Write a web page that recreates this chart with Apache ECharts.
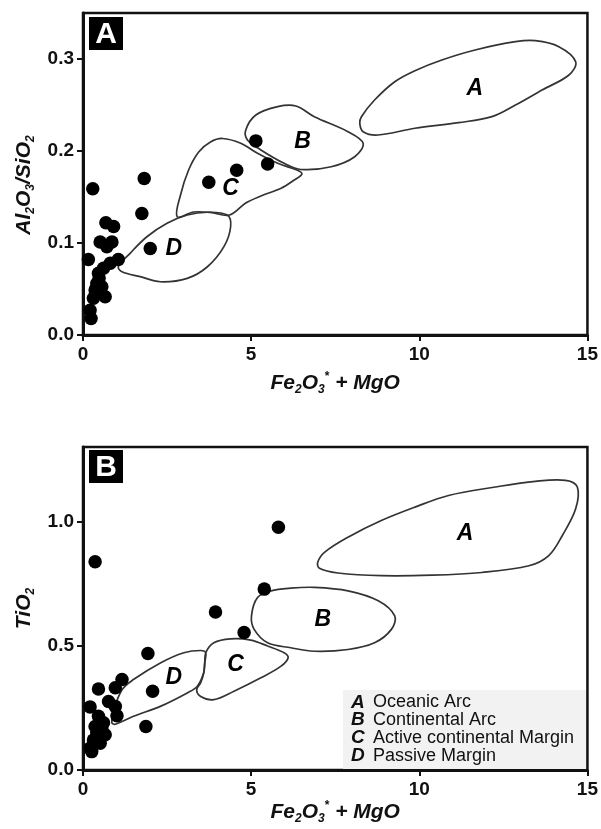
<!DOCTYPE html>
<html><head><meta charset="utf-8">
<script src="https://cdn.jsdelivr.net/npm/echarts@6/dist/echarts.min.js"></script>
<style>html,body{margin:0;padding:0;background:#fff}#c{width:601px;height:829px}</style>
</head><body><div id="c"></div>
<script>
// ---- data ----
const xTicks = [0, 5, 10, 15];
const yTicksA = [0, 0.1, 0.2, 0.3];
const yTicksB = [0, 0.5, 1.0];
const regionNames = ['A', 'B', 'C', 'D'];
const legendNames = ['Oceanic Arc', 'Continental Arc', 'Active continental Margin', 'Passive Margin'];

// Panel A: Al2O3/SiO2 vs Fe2O3*+MgO
const pointsA = [
  [0.29,0.159],[1.82,0.170],[1.75,0.132],[2.00,0.094],[3.74,0.166],[4.57,0.179],[5.14,0.211],[5.49,0.186],
  [0.68,0.122],[0.91,0.118],[0.51,0.101],[0.86,0.101],[0.71,0.096],[0.16,0.082],[1.05,0.082],[0.81,0.078],
  [0.61,0.0725],[0.46,0.067],[0.41,0.056],[0.56,0.0525],[0.36,0.049],[0.66,0.0416],[0.31,0.040],
  [0.21,0.027],[0.24,0.018],[0.48,0.062]
];
const polyA_A = [[8.28,0.2373],[8.67,0.2554],[9.27,0.2753],[9.87,0.2873],[10.67,0.2989],[11.66,0.3098],[12.86,0.3188],[13.45,0.3199],[14.15,0.3134],[14.65,0.2971],[14.45,0.2826],[13.65,0.2663],[12.86,0.25],[12.16,0.2373],[11.17,0.2308],[9.87,0.2247],[8.77,0.2174],[8.33,0.221],[8.23,0.2301]];
const polyA_B = [[4.84,0.2228],[5.14,0.2391],[5.79,0.2482],[6.33,0.2489],[6.88,0.2373],[7.88,0.221],[8.33,0.2084],[8.08,0.1938],[7.38,0.1829],[6.48,0.1799],[5.98,0.1866],[5.29,0.2011],[4.89,0.212]];
const polyA_C = [[2.80,0.1286],[2.90,0.1522],[3.14,0.1793],[3.44,0.1989],[3.79,0.2098],[4.15,0.2136],[4.69,0.2084],[5.19,0.1975],[5.79,0.1866],[6.36,0.1793],[6.51,0.175],[6.28,0.1685],[5.89,0.1595],[5.29,0.1511],[4.84,0.1435],[4.36,0.1304],[3.79,0.1332],[3.29,0.1337]];
const polyA_D = [[1.05,0.0742],[1.40,0.0888],[1.90,0.1068],[2.50,0.1214],[3.10,0.1304],[3.70,0.1334],[4.29,0.1304],[4.39,0.1177],[4.19,0.096],[3.70,0.0742],[3.10,0.0616],[2.30,0.0579],[1.70,0.0634],[1.16,0.0688]];
const labelPosA = [[11.65,0.268],[6.53,0.21],[4.39,0.159],[2.70,0.094]];

// Panel B: TiO2 vs Fe2O3*+MgO
const pointsB = [
  [0.36,0.838],[5.81,0.977],[5.39,0.728],[3.94,0.636],[4.79,0.553],[1.93,0.469],[2.07,0.317],[1.87,0.175],
  [1.16,0.364],[0.96,0.331],[0.46,0.326],[0.21,0.254],[0.76,0.276],[0.96,0.256],[1.01,0.218],[0.46,0.216],
  [0.36,0.175],[0.56,0.169],[0.46,0.135],[0.66,0.142],[0.31,0.121],[0.21,0.088],[0.26,0.074],[0.51,0.108],
  [0.61,0.19],[0.41,0.15]
];
const polyB_A = [[6.98,0.836],[7.18,0.876],[7.88,0.937],[8.87,1.004],[9.87,1.058],[10.87,1.105],[12.26,1.139],[13.45,1.162],[14.35,1.166],[14.70,1.139],[14.65,1.051],[14.25,0.943],[13.85,0.863],[13.26,0.822],[11.86,0.795],[10.37,0.784],[8.87,0.782],[7.58,0.793],[7.03,0.812]];
const polyB_B = [[5.01,0.620],[5.19,0.694],[5.59,0.721],[6.18,0.732],[6.88,0.735],[7.88,0.721],[8.78,0.681],[9.27,0.620],[9.17,0.566],[8.67,0.512],[7.88,0.485],[6.88,0.478],[6.18,0.492],[5.49,0.512],[5.09,0.566]];
const polyB_C = [[3.65,0.472],[3.89,0.512],[4.39,0.528],[4.99,0.523],[5.49,0.499],[5.98,0.472],[6.10,0.452],[5.89,0.418],[5.29,0.371],[4.49,0.317],[3.89,0.283],[3.50,0.296],[3.38,0.323],[3.50,0.351],[3.59,0.391],[3.62,0.431]];
const polyB_D = [[0.86,0.190],[0.90,0.235],[1.16,0.323],[1.50,0.364],[2.30,0.431],[3.00,0.472],[3.50,0.481],[3.65,0.472],[3.62,0.431],[3.59,0.391],[3.40,0.337],[3.10,0.310],[2.30,0.256],[1.50,0.216],[0.96,0.184]];
const labelPosB = [[11.36,0.950],[7.13,0.607],[4.54,0.425],[2.70,0.371]];

// ---- chart ----
const FONT = "'Liberation Sans', Arial, sans-serif";
const polysA = [polyA_A, polyA_B, polyA_C, polyA_D];
const polysB = [polyB_A, polyB_B, polyB_C, polyB_D];

const subRich = {
  t: {fontSize: 21, fontWeight: 'bold', fontStyle: 'italic', fontFamily: FONT, color: '#111', lineHeight: 25},
  s: {fontSize: 12, fontWeight: 'bold', fontStyle: 'italic', fontFamily: FONT, color: '#111', lineHeight: 12, verticalAlign: 'bottom'},
  p: {fontSize: 12, fontWeight: 'bold', fontFamily: FONT, color: '#111', lineHeight: 12, verticalAlign: 'top'}
};
const xName = '{t|Fe}{s|2}{t|O}{s|3}{p|*}{t| + MgO}';

function xAxisCfg(gi, gap) {
  return {
    type: 'value', gridIndex: gi, min: 0, max: 15, interval: 5,
    name: xName, nameLocation: 'middle', nameGap: gap,
    nameTextStyle: {rich: subRich},
    axisLine: {show: true, lineStyle: {color: '#111', width: 3}},
    axisTick: {show: true, length: 6, lineStyle: {color: '#111', width: 2}, customValues: xTicks},
    axisLabel: {customValues: xTicks, fontSize: 19, fontWeight: 'bold', fontFamily: FONT, color: '#111', margin: 10},
    splitLine: {show: false}
  };
}
function yAxisCfg(gi, max, interval, ticks, name, pad) {
  return {
    type: 'value', gridIndex: gi, min: 0, max: max, interval: interval,
    name: name, nameLocation: 'middle', nameGap: 42, nameRotate: 90,
    nameTextStyle: {rich: subRich, padding: pad},
    axisLine: {show: true, lineStyle: {color: '#111', width: 3}},
    axisTick: {show: true, length: 6, lineStyle: {color: '#111', width: 2}, customValues: ticks},
    axisLabel: {customValues: ticks, fontSize: 19, fontWeight: 'bold', fontFamily: FONT, color: '#111', margin: 9,
      formatter: v => v.toFixed(1)},
    splitLine: {show: false}
  };
}
function regionSeries(polys, labels, gi) {
  return {
    type: 'custom', xAxisIndex: gi, yAxisIndex: gi, silent: true, z: 2,
    data: labels.map((l, i) => [l[0], l[1], i]),
    renderItem: (params, api) => {
      const pts = polys[api.value(2)].map(p => api.coord(p));
      return {type: 'polygon', shape: {points: pts, smooth: 0.35},
        style: {fill: 'none', stroke: '#333', lineWidth: 1.7}};
    }
  };
}
function labelSeries(labels, gi) {
  return {
    type: 'scatter', xAxisIndex: gi, yAxisIndex: gi, silent: true, z: 4,
    symbolSize: 1, itemStyle: {color: 'rgba(0,0,0,0)', opacity: 1},
    data: labels.map((l, i) => ({name: regionNames[i], value: l})),
    label: {show: true, position: 'inside', formatter: '{b}', fontSize: 23, fontWeight: 'bold',
      fontStyle: 'italic', fontFamily: FONT, color: '#000', opacity: 1}
  };
}
function dotSeries(pts, gi) {
  return {type: 'scatter', xAxisIndex: gi, yAxisIndex: gi, silent: true, z: 3,
    symbol: 'circle', symbolSize: 13.5, itemStyle: {color: '#000', opacity: 1}, data: pts};
}
function panelTag(letter, x, y) {
  return {type: 'group', left: x, top: y, children: [
    {type: 'rect', shape: {x: 0, y: 0, width: 34, height: 33}, style: {fill: '#000'}},
    {type: 'text', x: 17, y: 17.5, style: {text: letter, fill: '#fff', font: 'bold 30px ' + FONT,
      align: 'center', verticalAlign: 'middle'}}
  ]};
}

const legendText = regionNames.map((n, i) => '{b|' + n + '}' + legendNames[i]).join('\n');

const chart = echarts.init(document.getElementById('c'), null, {renderer: 'canvas'});
chart.setOption({
  animation: false,
  backgroundColor: '#fff',
  grid: [
    {left: 83, top: 13, width: 505, height: 322, show: true, borderColor: '#111', borderWidth: 2.5, containLabel: false},
    {left: 83, top: 447, width: 505, height: 323, show: true, borderColor: '#111', borderWidth: 2.5, containLabel: false}
  ],
  xAxis: [xAxisCfg(0, 36), xAxisCfg(1, 27)],
  yAxis: [
    yAxisCfg(0, 0.35, 0.1, yTicksA, '{t|Al}{s|2}{t|O}{s|3}{t|/SiO}{s|2}', [0, 22, 0, 0]),
    yAxisCfg(1, 1.3, 0.5, yTicksB, '{t|TiO}{s|2}', [0, 0, 0, 0])
  ],
  series: [
    regionSeries(polysA, labelPosA, 0), labelSeries(labelPosA, 0), dotSeries(pointsA, 0),
    regionSeries(polysB, labelPosB, 1), labelSeries(labelPosB, 1), dotSeries(pointsB, 1)
  ],
  graphic: [
    panelTag('A', 89, 17),
    panelTag('B', 89, 450),
    {type: 'rect', left: 343, top: 690, z: 1, shape: {width: 243, height: 79}, style: {fill: '#f2f2f2'}},
    {type: 'text', left: 351, top: 693, z: 5, style: {
      text: legendText, font: '18px ' + FONT, fill: '#111', lineHeight: 17.7,
      rich: {b: {font: 'bold italic 19px ' + FONT, fill: '#111', width: 22, lineHeight: 17.7}}
    }}
  ]
});
</script></body></html>
